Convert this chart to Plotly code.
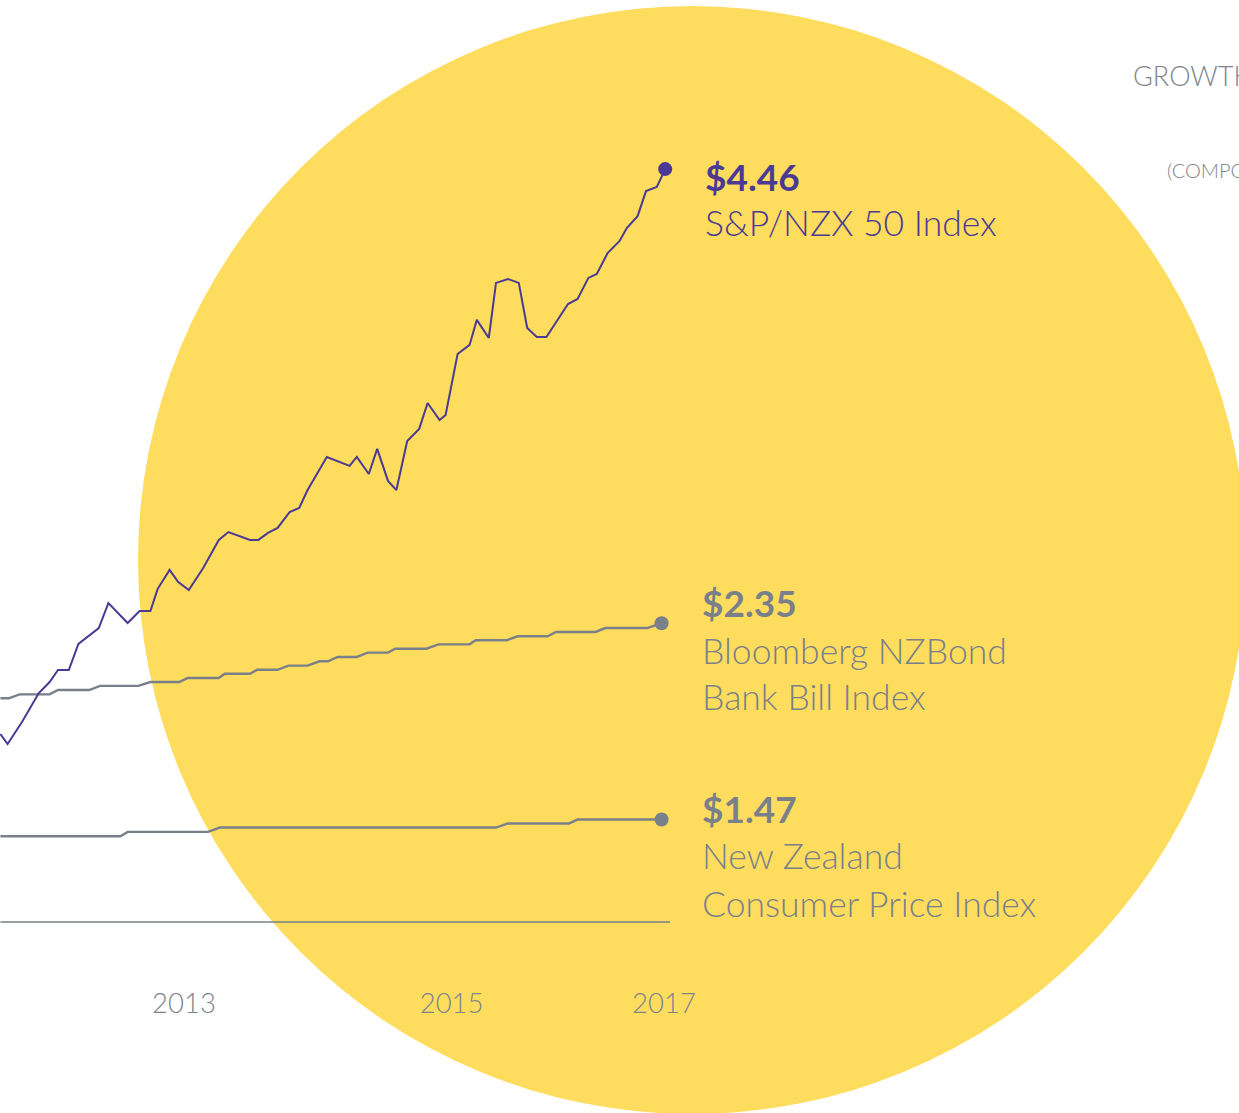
import plotly.graph_objects as go

# ---------------- data ----------------
# S&P/NZX 50 Index - growth of $1
sp_t = [2011.47, 2011.53, 2011.65, 2011.79, 2011.88, 2011.95, 2012.04, 2012.12, 2012.29, 2012.37,
        2012.53, 2012.63, 2012.72, 2012.78, 2012.88, 2012.95, 2013.04, 2013.16, 2013.29, 2013.37,
        2013.55, 2013.62, 2013.70, 2013.78, 2013.88, 2013.96, 2014.03, 2014.11, 2014.19, 2014.38,
        2014.44, 2014.54, 2014.61, 2014.70, 2014.77, 2014.86, 2014.96, 2015.03, 2015.13, 2015.18,
        2015.28, 2015.38, 2015.44, 2015.54, 2015.60, 2015.70, 2015.79, 2015.86, 2015.94, 2016.02,
        2016.20, 2016.28, 2016.37, 2016.44, 2016.53, 2016.63, 2016.69, 2016.78, 2016.85, 2016.94,
        2017.01]
sp_v = [1.864, 1.818, 1.919, 2.052, 2.103, 2.158, 2.158, 2.278, 2.351, 2.466,
        2.374, 2.429, 2.429, 2.530, 2.618, 2.563, 2.526, 2.627, 2.756, 2.792,
        2.756, 2.756, 2.788, 2.811, 2.884, 2.903, 2.985, 3.063, 3.137, 3.096,
        3.137, 3.059, 3.174, 3.027, 2.985, 3.210, 3.266, 3.385, 3.307, 3.330,
        3.610, 3.652, 3.767, 3.684, 3.937, 3.955, 3.937, 3.730, 3.688, 3.688,
        3.840, 3.863, 3.960, 3.978, 4.074, 4.130, 4.189, 4.244, 4.359, 4.378,
        4.460]

# Bloomberg NZBond Bank Bill Index
bb_t = [2011.47, 2011.54, 2011.63, 2011.88, 2011.95, 2012.21, 2012.30, 2012.62, 2012.72, 2012.96,
        2013.03, 2013.29, 2013.34, 2013.55, 2013.61, 2013.78, 2013.87, 2014.03, 2014.13, 2014.20,
        2014.28, 2014.44, 2014.53, 2014.70, 2014.76, 2015.02, 2015.12, 2015.38, 2015.43, 2015.69,
        2015.78, 2016.03, 2016.10, 2016.43, 2016.51, 2016.86, 2016.98]
bb_v = [2.028, 2.028, 2.046, 2.046, 2.066, 2.066, 2.085, 2.085, 2.103, 2.103,
        2.121, 2.121, 2.141, 2.141, 2.159, 2.159, 2.178, 2.178, 2.198, 2.198,
        2.218, 2.218, 2.238, 2.238, 2.256, 2.256, 2.276, 2.276, 2.295, 2.295,
        2.313, 2.313, 2.333, 2.333, 2.351, 2.351, 2.373]

# New Zealand Consumer Price Index
cpi_t = [2011.47, 2012.47, 2012.53, 2013.20, 2013.30, 2015.60, 2015.70, 2016.21, 2016.28, 2016.98]
cpi_v = [1.394, 1.394, 1.414, 1.414, 1.434, 1.434, 1.453, 1.453, 1.471, 1.471]

# $1 starting-value baseline
base_t = [2011.47, 2017.05]
base_v = [1.0, 1.0]

series_names = [["S&P/NZX 50 Index"],
                ["Bloomberg NZBond", "Bank Bill Index"],
                ["New Zealand", "Consumer Price Index"]]
series_values = ["$4.46", "$2.35", "$1.47"]

tick_vals = [2013.0, 2015.23, 2017.0]
tick_text = ["2013", "2015", "2017"]

title_lines = ["GROWTH OF $1", "(COMPOUNDED)"]

# ---------------- style ----------------
W, H = 1239, 1113
PURPLE = "#4A3A94"
GREY = "#7A8089"
GREY_TXT = "#7E848C"
YELLOW = "#FEDC5E"
FONT = "Lato"

fig = go.Figure()

fig.add_trace(go.Scatter(x=base_t, y=base_v, mode="lines",
                         line=dict(color=GREY, width=1.3), hoverinfo="skip"))
fig.add_trace(go.Scatter(x=cpi_t, y=cpi_v, mode="lines",
                         line=dict(color=GREY, width=2.4), hoverinfo="skip"))
fig.add_trace(go.Scatter(x=bb_t, y=bb_v, mode="lines",
                         line=dict(color=GREY, width=2.4), hoverinfo="skip"))
fig.add_trace(go.Scatter(x=sp_t, y=sp_v, mode="lines",
                         line=dict(color=PURPLE, width=2), hoverinfo="skip"))

ends = [(sp_t, sp_v, PURPLE), (bb_t, bb_v, GREY), (cpi_t, cpi_v, GREY)]
for t, v, c in ends:
    fig.add_trace(go.Scatter(x=[t[-1]], y=[v[-1]], mode="markers",
                             marker=dict(color=c, size=14), hoverinfo="skip"))

# labels next to each end point (vertical offsets in px, positive = up)
label_shift = [(-7, [-53]), (21, [-27, -73]), (11, [-36, -84])]
for (t, v, c), val, names, (ys_val, ys_names) in zip(ends, series_values, series_names, label_shift):
    fig.add_annotation(x=t[-1], y=v[-1], xref="x", yref="y", text="<b>" + val + "</b>",
                       showarrow=False, xanchor="left", yanchor="middle",
                       xshift=38, yshift=ys_val,
                       font=dict(family=FONT, size=37, color=c, weight=700))
    for nm, ys in zip(names, ys_names):
        fig.add_annotation(x=t[-1], y=v[-1], xref="x", yref="y", text=nm,
                           showarrow=False, xanchor="left", yanchor="middle",
                           xshift=38, yshift=ys,
                           font=dict(family=FONT, size=35.5, color=c, weight=300))

# cut-off title on the right
fig.add_annotation(x=1131 / W, y=1 - 76 / H, xref="paper", yref="paper", text=title_lines[0],
                   showarrow=False, xanchor="left", yanchor="middle",
                   font=dict(family=FONT, size=27, color=GREY_TXT, weight=300))
fig.add_annotation(x=1165 / W, y=1 - 170 / H, xref="paper", yref="paper", text=title_lines[1],
                   showarrow=False, xanchor="left", yanchor="middle",
                   font=dict(family=FONT, size=20, color=GREY_TXT, weight=300))

# yellow disc behind the chart
fig.add_shape(type="circle", xref="paper", yref="paper",
              x0=138 / W, x1=1246 / W, y0=1 - 1114 / H, y1=1 - 6 / H,
              fillcolor=YELLOW, line=dict(width=0), layer="below")

x_left = 2017.0 - 664 / 120.0
x_right = 2017.0 + (W - 664) / 120.0
y_top = 1 + 922 / 217.6
y_bot = 1 - (H - 922) / 217.6

fig.update_layout(
    width=W, height=H,
    margin=dict(l=0, r=0, t=0, b=0),
    paper_bgcolor="white", plot_bgcolor="rgba(0,0,0,0)",
    showlegend=False,
    xaxis=dict(range=[x_left, x_right], showgrid=False, zeroline=False, showline=False,
               ticks="", tickvals=tick_vals, ticktext=tick_text,
               tickfont=dict(family=FONT, size=27.5, color=GREY_TXT, weight=300),
               anchor="free", position=1 - 984 / H, fixedrange=True),
    yaxis=dict(range=[y_bot, y_top], visible=False, fixedrange=True),
)

fig.write_html("out.html")
